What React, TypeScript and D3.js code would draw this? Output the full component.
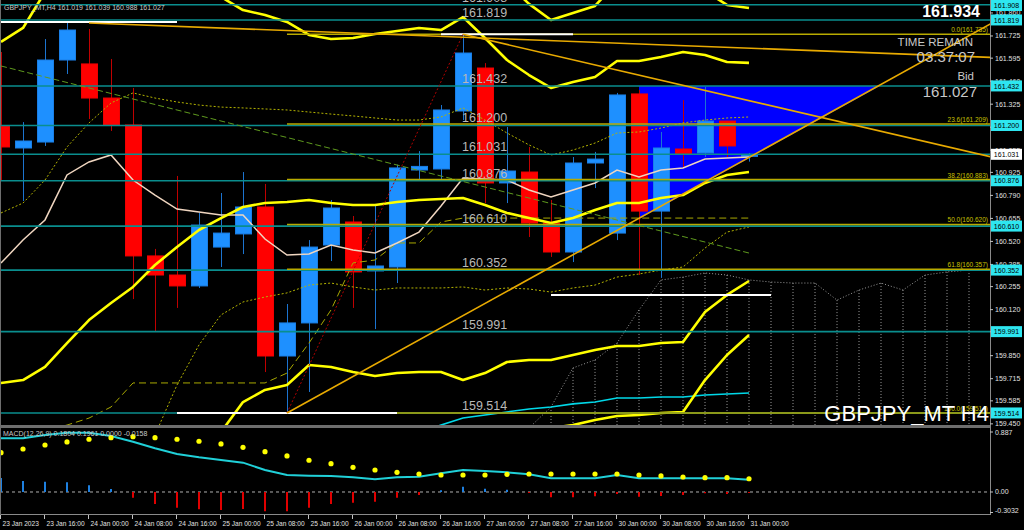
import * as d3 from "d3";

// GBPJPY_MT H4, 35 bars: 23 Jan 08:00 .. 31 Jan 00:00
const opens = [161.197, 161.068, 161.103, 161.584, 161.561, 161.361, 161.203, 160.435, 160.323, 160.259, 160.487, 160.564, 160.722, 159.848, 160.042, 160.499, 160.634, 160.347, 160.370, 160.939, 160.945, 161.285, 161.537, 160.863, 160.927, 160.628, 160.458, 160.980, 160.569, 161.385, 160.698, 161.062, 161.039, 161.226, 161.019];
const highs = [161.631, 161.220, 161.707, 161.801, 161.766, 161.590, 161.420, 160.476, 160.904, 160.687, 160.804, 160.927, 160.857, 160.153, 160.528, 160.763, 160.669, 160.734, 160.970, 161.050, 161.320, 161.731, 161.566, 161.191, 161.074, 160.763, 161.015, 161.045, 161.391, 161.408, 161.162, 161.349, 161.426, 161.226, 161.039];
const lows = [160.880, 160.757, 161.080, 161.502, 161.238, 161.168, 160.182, 159.989, 160.130, 160.247, 160.370, 160.446, 159.754, 159.514, 159.637, 160.405, 160.130, 160.006, 160.276, 160.880, 160.880, 161.232, 160.745, 160.745, 160.546, 160.429, 160.399, 160.833, 160.528, 160.323, 160.306, 160.951, 161.015, 161.015, 160.988];
const closes = [161.074, 161.109, 161.584, 161.760, 161.361, 161.203, 160.435, 160.323, 160.259, 160.616, 160.569, 160.722, 159.848, 160.042, 160.487, 160.716, 160.341, 160.376, 160.951, 160.960, 161.291, 161.625, 160.863, 160.933, 160.628, 160.458, 160.980, 161.003, 161.379, 160.698, 161.068, 161.033, 161.226, 161.080, 161.027];

// bollinger style bands (thick yellow)
const bbMid = [159.690, 159.707, 159.784, 159.924, 160.059, 160.159, 160.253, 160.382, 160.487, 160.587, 160.657, 160.722, 160.745, 160.751, 160.763, 160.745, 160.734, 160.734, 160.751, 160.763, 160.769, 160.775, 160.734, 160.687, 160.657, 160.628, 160.657, 160.704, 160.745, 160.745, 160.775, 160.792, 160.863, 160.910, 160.927];
const bbUp = [161.690, 161.772, 161.983, 162.083, 162.141, 162.171, 162.171, 162.141, 162.083, 162.024, 161.954, 161.877, 161.848, 161.807, 161.731, 161.707, 161.713, 161.737, 161.754, 161.772, 161.760, 161.836, 161.713, 161.584, 161.496, 161.420, 161.455, 161.484, 161.578, 161.578, 161.602, 161.631, 161.613, 161.572, 161.567];
const bbLow = [157.690, 157.643, 157.584, 157.766, 157.977, 158.147, 158.335, 158.622, 158.892, 159.150, 159.402, 159.578, 159.649, 159.678, 159.795, 159.784, 159.754, 159.731, 159.748, 159.754, 159.754, 159.707, 159.748, 159.813, 159.825, 159.825, 159.854, 159.883, 159.907, 159.907, 159.924, 159.930, 160.106, 160.206, 160.288];
const bbUp3 = [162.70, 162.80, 163.05, 163.15, 163.20, 163.20, 163.20, 163.10, 163.00, 162.90, 162.70, 162.50, 162.45, 162.35, 162.25, 162.20, 162.20, 162.22, 162.24, 162.26, 162.26, 162.35, 162.20, 162.036, 161.913, 161.819, 161.860, 161.901, 162.042, 162.042, 162.083, 162.053, 161.989, 161.907, 161.889];
const bbLow3 = [156.70, 156.60, 156.40, 156.50, 156.90, 157.10, 157.40, 157.75, 158.10, 158.45, 158.70, 158.90, 159.10, 159.15, 159.30, 159.30, 159.25, 159.20, 159.25, 159.25, 159.20, 159.20, 159.25, 159.30, 159.36, 159.426, 159.443, 159.473, 159.496, 159.502, 159.514, 159.520, 159.707, 159.854, 159.971];

const maWheat = [160.393, 160.528, 160.646, 160.910, 160.986, 161.027, 160.880, 160.792, 160.710, 160.693, 160.675, 160.675, 160.534, 160.440, 160.446, 160.499, 160.470, 160.452, 160.511, 160.575, 160.728, 160.892, 160.886, 160.880, 160.822, 160.781, 160.822, 160.863, 160.939, 160.898, 160.939, 160.951, 161.003, 161.009, 161.015];
const dotUp = [160.687, 160.745, 160.880, 161.074, 161.215, 161.332, 161.391, 161.361, 161.338, 161.320, 161.308, 161.303, 161.297, 161.291, 161.279, 161.267, 161.256, 161.244, 161.232, 161.232, 161.250, 161.303, 161.232, 161.156, 161.086, 161.027, 161.056, 161.097, 161.156, 161.162, 161.185, 161.215, 161.232, 161.244, 161.250];
const dotLow = [159.121, 159.062, 159.003, 158.886, 158.769, 158.886, 159.179, 159.385, 159.678, 159.913, 160.089, 160.165, 160.194, 160.218, 160.264, 160.276, 160.253, 160.235, 160.247, 160.247, 160.247, 160.253, 160.235, 160.247, 160.241, 160.223, 160.247, 160.264, 160.311, 160.329, 160.352, 160.370, 160.481, 160.575, 160.605];
const kijun = [159.355, 159.385, 159.414, 159.443, 159.484, 159.549, 159.690, 159.690, 159.690, 159.690, 159.690, 159.690, 159.690, 159.748, 159.924, 160.118, 160.394, 160.411, 160.511, 160.511, 160.634, 160.657, 160.657, 160.657, 160.657, 160.657, 160.657, 160.657, 160.657, 160.657, 160.657, 160.657, 160.657, 160.657, 160.657];
const maCyan = [159.10, 159.10, 159.12, 159.13, 159.15, 159.16, 159.18, 159.19, 159.21, 159.22, 159.24, 159.25, 159.27, 159.28, 159.30, 159.32, 159.34, 159.36, 159.38, 159.402, 159.443, 159.484, 159.502, 159.520, 159.537, 159.549, 159.567, 159.578, 159.602, 159.602, 159.608, 159.608, 159.619, 159.625, 159.631];

// cloud span, bars 24..44 (runs into the future)
const cloudStart = 24;
const cloudSpan = [159.426, 159.549, 159.778, 159.825, 159.924, 160.118, 160.294, 160.311, 160.335, 160.323, 160.294, 160.282, 160.276, 160.276, 160.176, 160.235, 160.276, 160.235, 160.323, 160.341, 160.352];

// MACD(12,26,9)
const macdHist = [0.207, 0.163, 0.152, 0.143, 0.099, 0.044, -0.084, -0.178, -0.232, -0.256, -0.266, -0.251, -0.286, -0.286, -0.232, -0.178, -0.158, -0.143, -0.084, -0.044, 0.025, 0.079, 0.049, 0.034, -0.015, -0.079, -0.079, -0.064, -0.030, -0.069, -0.059, -0.044, -0.020, -0.030, -0.016];
const macdMain = [0.794, 0.794, 0.843, 0.877, 0.877, 0.828, 0.744, 0.646, 0.562, 0.513, 0.473, 0.434, 0.325, 0.251, 0.241, 0.237, 0.217, 0.188, 0.217, 0.226, 0.277, 0.325, 0.311, 0.291, 0.262, 0.203, 0.203, 0.203, 0.251, 0.203, 0.203, 0.203, 0.203, 0.203, 0.180];
const macdSignal = [0.581, 0.636, 0.695, 0.740, 0.780, 0.803, 0.818, 0.803, 0.780, 0.750, 0.710, 0.661, 0.596, 0.533, 0.469, 0.418, 0.365, 0.325, 0.291, 0.266, 0.251, 0.251, 0.251, 0.261, 0.266, 0.266, 0.266, 0.266, 0.266, 0.251, 0.237, 0.222, 0.212, 0.212, 0.196];

// horizontal levels and fibo
const levels = [161.908, 161.819, 161.432, 161.200, 161.031, 160.876, 160.610, 160.352, 159.991, 159.514];
const fibPct = [0.0, 23.6, 38.2, 50.0, 61.8, 100.0];
const fibPrice = [161.735, 161.209, 160.883, 160.620, 160.357, 159.514];
const fibFromBar = 13;

// price axis
const priceTicks = [161.860, 161.725, 161.595, 161.460, 161.325, 161.190, 161.055, 160.925, 160.790, 160.655, 160.520, 160.385, 160.255, 160.120, 159.990, 159.850, 159.715, 159.585, 159.450];
const macdTicks = [0.887, 0.0, -0.3032];
const macdTickLabels = ["0.887", "0.00", "-0.3032"];

const timeLabels = ["23 Jan 2023", "23 Jan 16:00", "24 Jan 00:00", "24 Jan 08:00", "24 Jan 16:00", "25 Jan 00:00", "25 Jan 08:00", "25 Jan 16:00", "26 Jan 00:00", "26 Jan 08:00", "26 Jan 16:00", "27 Jan 00:00", "27 Jan 08:00", "27 Jan 16:00", "30 Jan 00:00", "30 Jan 08:00", "30 Jan 16:00", "31 Jan 00:00"];
const timeLabelBars = [0, 2, 4, 6, 8, 10, 12, 14, 16, 18, 20, 22, 24, 26, 28, 30, 32, 34];

// drawn objects: [bar1, price1, bar2, price2]
const trendUp = [13, 159.514, 30.5, 160.763];
const trendDown = [21, 161.735, 29.95, 161.467];
const trendTop = [4, 161.801, 44.5, 161.602];
const trendGreen = [0, 161.549, 34, 160.452];
const fibLink = [13, 159.514, 21, 161.735];
const whiteSegs = [
  [-0.1, 8, 161.807],
  [20, 26, 161.735],
  [25, 35, 160.206],
  [8, 18, 159.514],
];
const triangle = [
  [29, 161.432],
  [39.95, 161.432],
  [29, 160.652],
];

const FONT = "'Liberation Sans', Arial, sans-serif";
const RIGHT = 990;

export default function App() {
  const x = d3.scaleLinear().domain([0, 45]).range([1, 991]);
  const y = d3.scaleLinear().domain([159.4375, 161.936]).range([426, 0]);
  const ym = d3.scaleLinear().domain([-0.3032, 0.887]).range([512.5, 432]);

  const path = (vals: number[], start = 0) =>
    d3
      .line<number>()
      .x((_, i) => x(i + start))
      .y((v) => y(v))(vals) ?? "";

  const ray = (t: number[]) => {
    const [b1, p1, b2, p2] = t;
    const k = (p2 - p1) / (b2 - b1);
    return { x1: x(b1), y1: y(p1), x2: x(45), y2: y(p1 + k * (45 - b1)) };
  };
  const seg = (t: number[]) => ({ x1: x(t[0]), y1: y(t[1]), x2: x(t[2]), y2: y(t[3]) });

  const up = ray(trendUp);
  const down = ray(trendDown);
  const top = ray(trendTop);

  return (
    <>
      <style>{`body{margin:0;background:#000;overflow:hidden}`}</style>
      <svg width={1024} height={530} style={{ display: "block", background: "#000" }} fontFamily={FONT}>
        <defs>
          <clipPath id="main">
            <rect x={0} y={0} width={RIGHT} height={425} />
          </clipPath>
          <clipPath id="macd">
            <rect x={0} y={428} width={RIGHT} height={86} />
          </clipPath>
        </defs>

        <g clipPath="url(#main)">
          {/* background triangle */}
          <polygon
            points={triangle.map((d) => `${x(d[0])},${y(d[1])}`).join(" ")}
            fill="#0000ff"
          />

          {/* candles */}
          {opens.map((o, i) => {
            const c = closes[i];
            const bull = c >= o;
            const cx = Math.round(x(i)) + 0.5;
            const t = y(Math.max(o, c));
            const b = y(Math.min(o, c));
            return (
              <g key={i}>
                <line x1={cx} x2={cx} y1={y(highs[i])} y2={y(lows[i])} stroke={bull ? "#1c74d0" : "#c00000"} />
                <rect
                  x={cx - 8}
                  y={t}
                  width={16}
                  height={Math.max(1, b - t)}
                  fill={bull ? "#1e90ff" : "#ff0000"}
                  stroke={bull ? "#1a7fe6" : "#f00000"}
                />
              </g>
            );
          })}

          {/* cloud */}
          {cloudSpan.map((v, i) => (
            <line
              key={i}
              x1={x(i + cloudStart)}
              x2={x(i + cloudStart)}
              y1={y(v)}
              y2={426}
              stroke="#9a9a9a"
              strokeDasharray="1,2"
            />
          ))}
          <path d={path(cloudSpan, cloudStart)} fill="none" stroke="#9a9a9a" strokeDasharray="1,2" />

          {/* indicators */}
          <path d={path(dotUp)} fill="none" stroke="#b4b400" strokeDasharray="2,2" />
          <path d={path(dotLow)} fill="none" stroke="#b4b400" strokeDasharray="2,2" />
          <path d={path(kijun)} fill="none" stroke="#a8a800" strokeDasharray="7,4" />
          <path d={path(maCyan)} fill="none" stroke="#00d8e8" strokeWidth={1.6} />
          <path d={path(maWheat)} fill="none" stroke="#f0d6c0" strokeWidth={1.5} />
          {[bbMid, bbUp, bbLow, bbUp3, bbLow3].map((s, k) => (
            <path key={k} d={path(s)} fill="none" stroke="#ffff00" strokeWidth={2.6} strokeLinejoin="round" />
          ))}

          {/* horizontal levels */}
          {levels.map((p) => (
            <line key={p} x1={0} x2={RIGHT} y1={y(p)} y2={y(p)} stroke="#0a8e8e" strokeWidth={1.6} />
          ))}
          {fibPrice.map((p, i) => (
            <g key={i}>
              <line x1={x(fibFromBar)} x2={RIGHT} y1={y(p)} y2={y(p)} stroke="#b8aa00" strokeWidth={1.5} />
              <text x={988} y={y(p) - 2} fontSize={6.5} fill="#c8c000" textAnchor="end">
                {`${fibPct[i].toFixed(1)}(${p.toFixed(3)})`}
              </text>
            </g>
          ))}
          {whiteSegs.map((s, i) => (
            <line key={i} x1={x(s[0])} x2={x(s[1])} y1={y(s[2])} y2={y(s[2])} stroke="#ffffff" strokeWidth={2} />
          ))}

          {/* trend lines */}
          <line {...seg(trendGreen)} stroke="#5f9a1e" strokeDasharray="6,3" />
          <line {...seg(fibLink)} stroke="#b00000" strokeDasharray="2,2" />
          <line {...up} stroke="#e8aa00" strokeWidth={1.6} />
          <line {...down} stroke="#e8aa00" strokeWidth={1.6} />
          <line {...top} stroke="#e8aa00" strokeWidth={1.6} />

          {/* level labels */}
          {levels.map((p) => (
            <text key={p} x={462} y={y(p) - 3} fontSize={12.5} fill="#b8b8b8">
              {p.toFixed(3)}
            </text>
          ))}
        </g>

        {/* header */}
        <text x={4} y={10} fontSize={7} fill="#c8c8c8">
          GBPJPY_MT,H4  161.019 161.039 160.988 161.027
        </text>

        {/* info block */}
        <text x={980} y={17} fontSize={16} fontWeight="bold" fill="#ffffff" textAnchor="end">
          161.934
        </text>
        <text x={973} y={46} fontSize={11.5} fill="#c8c8c8" textAnchor="end">
          TIME REMAIN
        </text>
        <text x={975} y={62} fontSize={15} fill="#c8c8c8" textAnchor="end">
          03:37:07
        </text>
        <text x={974} y={80} fontSize={11.5} fill="#c8c8c8" textAnchor="end">
          Bid
        </text>
        <text x={977} y={97} fontSize={15} fill="#c8c8c8" textAnchor="end">
          161.027
        </text>
        <text x={989} y={421} fontSize={22} fill="#ffffff" textAnchor="end">
          GBPJPY_MT H4
        </text>

        {/* MACD panel */}
        <g clipPath="url(#macd)">
          <line x1={0} x2={RIGHT} y1={ym(0)} y2={ym(0)} stroke="#b0b0b0" strokeDasharray="3,3" />
          {macdHist.map((v, i) => (
            <line
              key={i}
              x1={x(i)}
              x2={x(i)}
              y1={ym(0)}
              y2={ym(v)}
              stroke={v >= 0 ? "#1e80e0" : "#e00000"}
              strokeWidth={2}
            />
          ))}
          <path
            d={
              d3
                .line<number>()
                .x((_, i) => x(i))
                .y((v) => ym(v))(macdMain) ?? ""
            }
            fill="none"
            stroke="#20d0d8"
            strokeWidth={2}
          />
          {macdSignal.map((v, i) => (
            <circle key={i} cx={x(i)} cy={ym(v)} r={2.6} fill="#ffff00" />
          ))}
        </g>
        <text x={3} y={436} fontSize={7} fill="#c8c8c8">
          MACD(12,26,9) 0.1804 0.1961 0.0000 -0.0158
        </text>

        {/* frames */}
        <rect x={0} y={425} width={RIGHT} height={3} fill="#6e6e6e" />
        <line x1={0} x2={RIGHT} y1={514.5} y2={514.5} stroke="#8a8a8a" />
        <line x1={RIGHT + 0.5} x2={RIGHT + 0.5} y1={0} y2={515} stroke="#8a8a8a" />
        <line x1={0.5} x2={0.5} y1={0} y2={515} stroke="#6e6e6e" />

        {/* price axis */}
        {priceTicks.map((p) => (
          <g key={p}>
            <line x1={RIGHT} x2={RIGHT + 3} y1={y(p)} y2={y(p)} stroke="#c0c0c0" />
            <text x={995} y={y(p) + 2.5} fontSize={7} fill="#e0e0e0">
              {p.toFixed(3)}
            </text>
          </g>
        ))}
        {levels.map((p) => {
          const bid = p === 161.031;
          const yy = Math.max(5.5, y(p));
          return (
            <g key={p}>
              <rect x={991} y={yy - 5.5} width={31} height={11} fill={bid ? "#ffffff" : "#2ee6f0"} />
              <text x={1006.5} y={yy + 2.6} fontSize={7} fill="#000" textAnchor="middle">
                {p.toFixed(3)}
              </text>
            </g>
          );
        })}
        {macdTicks.map((v, i) => (
          <g key={v}>
            <line x1={RIGHT} x2={RIGHT + 3} y1={ym(v)} y2={ym(v)} stroke="#c0c0c0" />
            <text x={995} y={Math.min(ym(v), 510) + 2.5} fontSize={7} fill="#e0e0e0">
              {macdTickLabels[i]}
            </text>
          </g>
        ))}

        {/* time axis */}
        {timeLabels.map((t, i) => {
          const tx = i === 0 ? 0.5 : Math.round(x(timeLabelBars[i])) - 0.5;
          return (
            <g key={t}>
              <line x1={tx} x2={tx} y1={515} y2={519} stroke="#c0c0c0" />
              <text x={tx + 2} y={526} fontSize={6.6} fill="#e0e0e0">
                {t}
              </text>
            </g>
          );
        })}
      </svg>
    </>
  );
}
